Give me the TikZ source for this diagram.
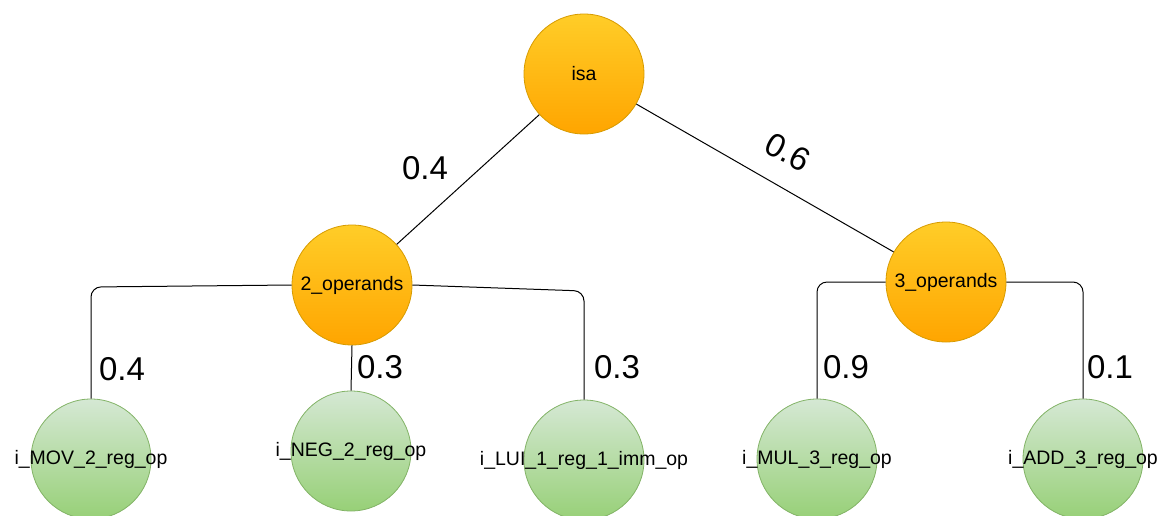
\documentclass[tikz,border=0pt]{standalone}
\usepackage{fontspec}
\setmainfont{Liberation Sans}
\usetikzlibrary{calc}
\definecolor{orangetop}{HTML}{FFCD28}
\definecolor{orangebot}{HTML}{FFA500}
\definecolor{orangeline}{HTML}{D79B00}
\definecolor{greentop}{HTML}{D5E8D4}
\definecolor{greenbot}{HTML}{97D077}
\definecolor{greenline}{HTML}{82B366}
\begin{document}
\begin{tikzpicture}[x=1pt,y=-1pt,
  inner/.style={circle, draw=orangeline, top color=orangetop, bottom color=orangebot,
    minimum size=120pt, inner sep=0pt, line width=0.8pt,
    font=\fontsize{19.5}{20}\selectfont},
  leaf/.style={circle, draw=greenline, top color=greentop, bottom color=greenbot,
    minimum size=120pt, inner sep=0pt, line width=0.8pt,
    font=\fontsize{19.5}{20}\selectfont},
  conn/.style={draw=black, line width=1pt, rounded corners=10pt},
  prob/.style={inner sep=0pt, font=\fontsize{33}{36}\selectfont}]
\useasboundingbox (0,0) rectangle (1161,515);
\clip (0,0) rectangle (1161,515);

% tree nodes
\node[inner] (isa) at (584,74) {\makebox[0pt]{isa}};
\node[inner] (op2) at (352,285) {\makebox[0pt]{2\_operands}};
\node[inner] (op3) at (946,282) {\makebox[0pt]{3\_operands}};
\node[leaf] (mov) at (91,459) {\makebox[0pt]{i\_MOV\_2\_reg\_op}};
\node[leaf] (neg) at (351,451) {\makebox[0pt]{i\_NEG\_2\_reg\_op}};
\node[leaf] (lui) at (584,460) {\makebox[0pt]{i\_LUI\_1\_reg\_1\_imm\_op}};
\node[leaf] (mul) at (817,459) {\makebox[0pt]{i\_MUL\_3\_reg\_op}};
\node[leaf] (add) at (1083,459) {\makebox[0pt]{i\_ADD\_3\_reg\_op}};

% edges
\draw[conn] (isa) -- (op2);
\draw[conn] (isa) -- (op3);
\draw[conn] (op2.west) -- ($(mov.north |- op2.west)+(0,2)$) -- (mov.north);
\draw[conn] (op2.south) -- (neg.north);
\draw[conn] (op2.east) -- ($(lui.north |- op2.east)+(0,6)$) -- (lui.north);
\draw[conn] (op3.west) -- (mul.north |- op3.west) -- (mul.north);
\draw[conn] (op3.east) -- (add.north |- op3.east) -- (add.north);

% probabilities
\node[prob] (p2) at (425,168) {0.4};
\node[prob, rotate=-28] (p3) at (788,152) {0.6};
\node[prob] (pmov) at (122,369) {0.4};
\node[prob] (pneg) at (380,367) {0.3};
\node[prob] (plui) at (617,367) {0.3};
\node[prob] (pmul) at (846,367) {0.9};
\node[prob] (padd) at (1110,367) {0.1};
\end{tikzpicture}
\end{document}
